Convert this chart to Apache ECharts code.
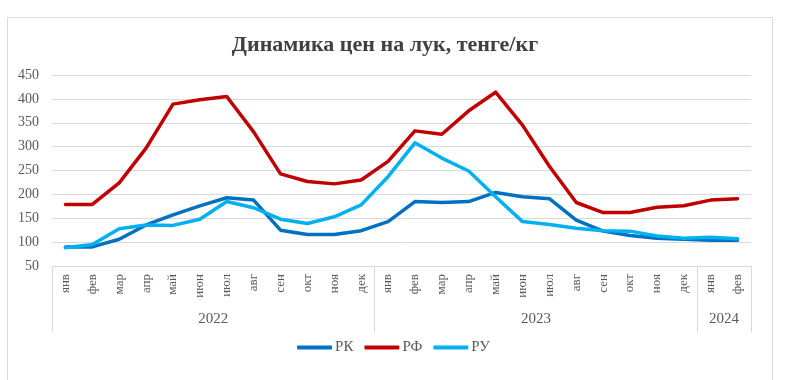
<!DOCTYPE html>
<html>
<head>
<meta charset="utf-8">
<script src="https://cdn.jsdelivr.net/npm/echarts@6/dist/echarts.min.js"></script>
<style>
html,body{margin:0;padding:0;background:#fff;}
#chart{width:787px;height:380px;}
</style>
</head>
<body>
<div id="chart"></div>
<script>
const months = ['янв','фев','мар','апр','май','июн','июл','авг','сен','окт','ноя','дек',
                'янв','фев','мар','апр','май','июн','июл','авг','сен','окт','ноя','дек',
                'янв','фев'];
const years = ['2022','2023','2024'];
const monthsPerYear = [12,12,2];
const seriesNames = ['РК','РФ','РУ'];
const rk = [90,90,106,136,157,176,193,188,125,116,116,124, 143,185,183,185,204,195,191,146,123,114,108,106, 104,104];
const rf = [179,179,224,297,389,398,405,331,243,227,222,230, 269,333,326,375,414,345,259,183,162,162,173,176, 188,191];
const ru = [88,95,128,136,135,148,185,172,148,139,153,178, 237,308,276,249,195,143,137,129,124,123,113,108, 110,107];
const yTicks = [50,100,150,200,250,300,350,400,450];

// year group boundaries and centers on a 0..N value scale
const boundaries = [0];
const centers = [];
monthsPerYear.forEach((n,i)=>{ const s = boundaries[boundaries.length-1]; centers.push(s + n/2); boundaries.push(s+n); });

const FONT = '"Liberation Serif", "Times New Roman", serif';
const chart = echarts.init(document.getElementById('chart'), null, {renderer:'canvas'});
chart.setOption({
  animation:false,
  backgroundColor:'#fff',
  graphic:[{type:'rect', left:5, top:15, shape:{width:765, height:380}, style:{fill:'none', stroke:'#d9d9d9', lineWidth:1}, z:-1}],
  title:{
    text:'Динамика цен на лук, тенге/кг',
    left:380, textAlign:'center', top:29,
    textStyle:{fontFamily:FONT, fontWeight:'bold', fontSize:22, color:'#404040'}
  },
  legend:{
    data:seriesNames, bottom:20, left:'center',
    icon:'roundRect', itemWidth:35, itemHeight:4, itemGap:11,
    textStyle:{fontFamily:FONT, fontSize:15, color:'#595959', padding:[0,0,0,-2]}
  },
  grid:{left:52, right:36, top:75, bottom:114, containLabel:false},
  xAxis:[{
    type:'category', data:months, boundaryGap:true,
    axisLine:{show:true, lineStyle:{color:'#d9d9d9'}},
    axisTick:{show:false},
    axisLabel:{rotate:90, margin:8, fontFamily:FONT, fontSize:13, color:'#595959', interval:0}
  },{
    type:'value', min:0, max:boundaries[boundaries.length-1], position:'bottom',
    axisLine:{show:false},
    splitLine:{show:false},
    axisTick:{show:true, customValues:boundaries, length:66, lineStyle:{color:'#d9d9d9'}},
    axisLabel:{show:true, customValues:centers, margin:46, fontFamily:FONT, fontSize:15, color:'#595959',
      formatter:function(v){ const i = centers.indexOf(v); return i>=0 ? years[i] : ''; }}
  }],
  yAxis:{
    type:'value', min:yTicks[0], max:yTicks[yTicks.length-1], interval:50,
    axisLine:{show:false}, axisTick:{show:false},
    splitLine:{lineStyle:{color:'#d9d9d9'}},
    axisLabel:{margin:13, fontFamily:FONT, fontSize:14, color:'#595959'}
  },
  series:[
    {name:seriesNames[0], type:'line', data:rk, xAxisIndex:0, symbol:'none', lineStyle:{width:3.5, color:'#0070C0', cap:'round', join:'round'}, itemStyle:{color:'#0070C0'}, z:3},
    {name:seriesNames[1], type:'line', data:rf, xAxisIndex:0, symbol:'none', lineStyle:{width:3.5, color:'#C00000', cap:'round', join:'round'}, itemStyle:{color:'#C00000'}, z:2},
    {name:seriesNames[2], type:'line', data:ru, xAxisIndex:0, symbol:'none', lineStyle:{width:3.5, color:'#00B0F0', cap:'round', join:'round'}, itemStyle:{color:'#00B0F0'}, z:4}
  ]
});
</script>
</body>
</html>
